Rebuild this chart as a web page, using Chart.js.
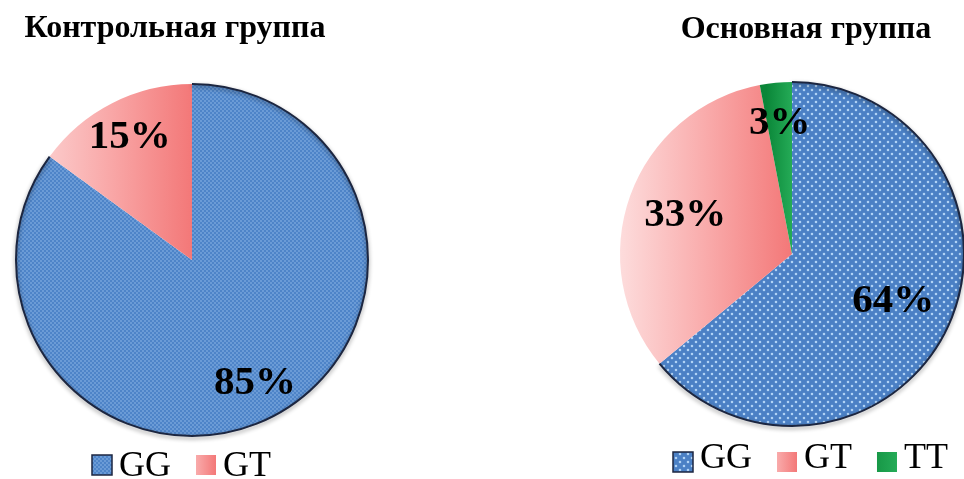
<!DOCTYPE html>
<html>
<head>
<meta charset="utf-8">
<script src="https://cdn.jsdelivr.net/npm/chart.js@4"></script>
<style>
html, body { margin: 0; padding: 0; background: #fff; }
#wrap { position: relative; width: 964px; height: 479px; overflow: hidden; }
.box { position: absolute; top: 0; width: 482px; height: 479px; }
</style>
</head>
<body>
<div id="wrap">
	<div class="box" style="left:0"><canvas id="control" width="482" height="479"></canvas></div>
	<div class="box" style="left:482px"><canvas id="main" width="482" height="479"></canvas></div>
</div>
<script>
// data
var categories = ['GG', 'GT', 'TT'];
var controlTitle = 'Контрольная группа';
var controlValues = [85, 15];
var mainTitle = 'Основная группа';
var mainValues = [64, 33, 3];

var serif = '"Liberation Serif", "Times New Roman", serif';

// dotted blue fill, like the shaded slice of the original
function dotPattern(step, r, base, dot) {
	var c = document.createElement('canvas');
	c.width = step;
	c.height = step;
	var g = c.getContext('2d');
	g.fillStyle = base;
	g.fillRect(0, 0, step, step);
	g.fillStyle = dot;
	g.beginPath();
	g.arc(step / 4, step / 4, r, 0, Math.PI * 2);
	g.arc(step * 3 / 4, step * 3 / 4, r, 0, Math.PI * 2);
	g.fill();
	return g.createPattern(c, 'repeat');
}

function sliceFill(ctx, i, pattern, x0, x1) {
	if (i === 0) return pattern;
	var g = ctx.createLinearGradient(x0, 0, x1, 0);
	if (i === 1) {
		g.addColorStop(0, '#fddcdc');
		g.addColorStop(0.5, '#f9abab');
		g.addColorStop(1, '#f37878');
	} else {
		g.addColorStop(0, '#0a8638');
		g.addColorStop(1, '#25ab57');
	}
	return g;
}

var decor = {
	id: 'decor',
	afterDatasetsDraw: function(chart, args, opts) {
		var ctx = chart.ctx;
		var arcs = chart.getDatasetMeta(0).data;
		var ds = chart.data.datasets[0];
		var a = arcs[0];

		/* dark rim with a soft shadow round the GG slice */
		ctx.save();
		ctx.shadowColor = 'rgba(0,0,0,0.45)';
		ctx.shadowBlur = 4;
		ctx.shadowOffsetY = 2;
		ctx.strokeStyle = '#1c2640';
		ctx.lineWidth = 2;
		ctx.beginPath();
		ctx.arc(a.x, a.y, a.outerRadius, a.startAngle, a.endAngle);
		ctx.stroke();
		ctx.restore();

		// percent labels on the slices
		ctx.save();
		ctx.font = 'bold 41px ' + serif;
		ctx.fillStyle = '#000';
		ctx.textAlign = 'center';
		ctx.textBaseline = 'middle';
		arcs.forEach(function(arc, i) {
			var mid = (arc.startAngle + arc.endAngle) / 2;
			var r = arc.outerRadius * opts.labelRadius[i];
			ctx.fillText(ds.data[i] + '%', arc.x + Math.cos(mid) * r, arc.y + Math.sin(mid) * r);
		});

		// title
		ctx.font = 'bold 32px ' + serif;
		ctx.textBaseline = 'alphabetic';
		ctx.fillText(opts.title, opts.titleX, opts.titleY);

		// legend
		ctx.font = '36px ' + serif;
		ctx.textAlign = 'left';
		var x = opts.legendX;
		chart.data.labels.forEach(function(lab, i) {
			ctx.fillStyle = sliceFill(ctx, i, opts.pattern, x - 20, x + 20);
			ctx.fillRect(x, opts.legendBoxY, 20, 20);
			if (i === 0) {
				ctx.strokeStyle = '#1c2640';
				ctx.lineWidth = 1.5;
				ctx.strokeRect(x, opts.legendBoxY, 20, 20);
			}
			x += 27;
			ctx.fillStyle = '#000';
			ctx.fillText(lab, x, opts.legendBaseline);
			x += ctx.measureText(lab).width + 25;
		});
		ctx.restore();
	}
};

function makePie(id, values, pattern, padding, extra) {
	var canvas = document.getElementById(id);
	extra.pattern = pattern;
	return new Chart(canvas, {
		type: 'pie',
		data: {
			labels: categories.slice(0, values.length),
			datasets: [{
				data: values,
				borderWidth: 0,
				backgroundColor: function(c) {
					var area = c.chart.chartArea;
					if (!area) return '#4e84c8';
					var cx = (area.left + area.right) / 2;
					var r = Math.min(area.right - area.left, area.bottom - area.top) / 2;
					var x0 = c.dataIndex === 2 ? cx - r * 0.15 : cx - r;
					return sliceFill(c.chart.ctx, c.dataIndex, pattern, x0, cx);
				}
			}]
		},
		options: {
			responsive: false,
			animation: false,
			devicePixelRatio: 1,
			layout: { padding: padding },
			plugins: {
				legend: { display: false },
				tooltip: { enabled: false },
				decor: extra
			}
		},
		plugins: [decor]
	});
}

makePie('control', controlValues, dotPattern(4, 0.8, '#4e84c8', '#93bbea'),
	{ left: 16, top: 84, right: 114, bottom: 43 },
	{ title: controlTitle, titleX: 175, titleY: 37, labelRadius: [0.79, 0.78],
	  legendX: 92, legendBoxY: 455, legendBaseline: 476 });

makePie('main', mainValues, dotPattern(8, 1.3, '#4b80c5', '#b0d2f5'),
	{ left: 138, top: 82, right: 0, bottom: 53 },
	{ title: mainTitle, titleX: 324, titleY: 38, labelRadius: [0.65, 0.66, 0.76],
	  legendX: 191, legendBoxY: 452, legendBaseline: 468 });
</script>
</body>
</html>
